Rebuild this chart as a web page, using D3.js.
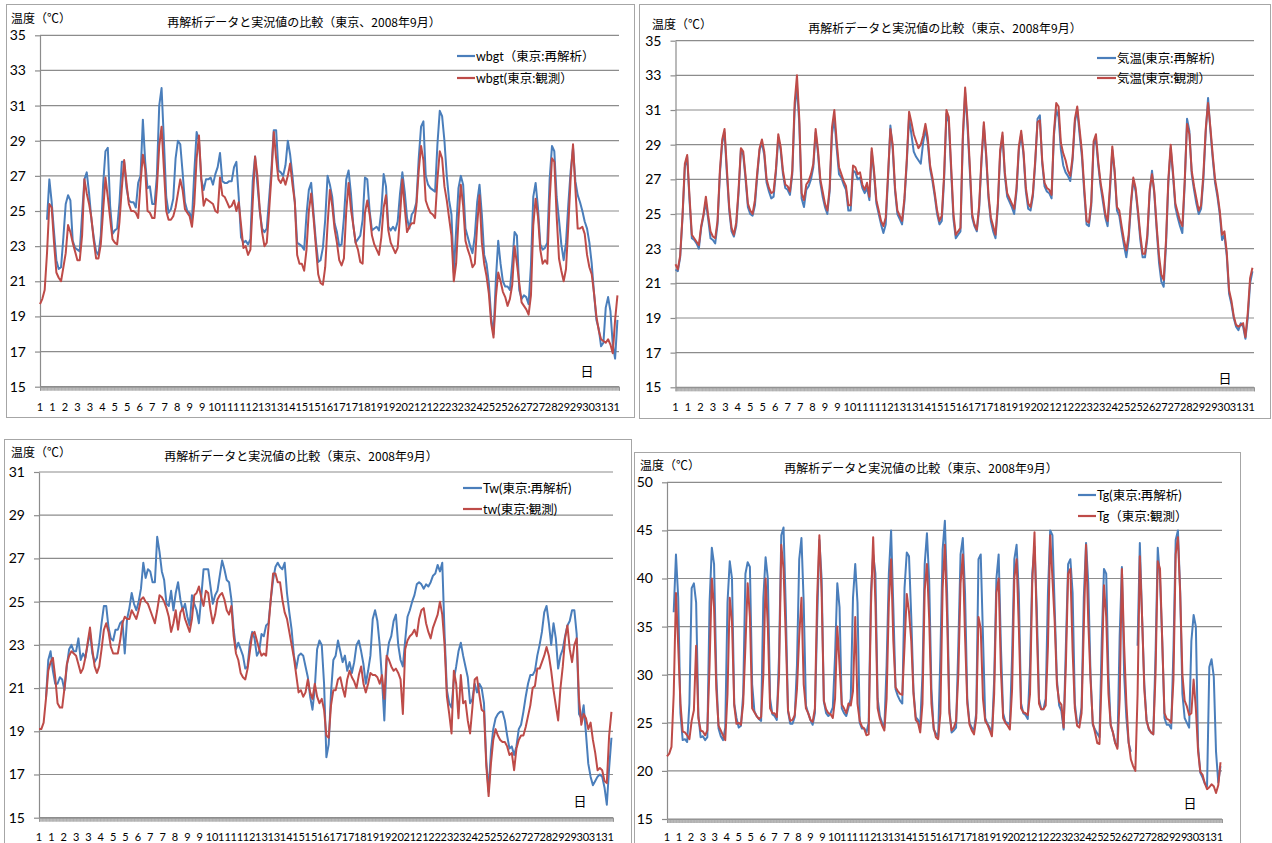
<!DOCTYPE html>
<html>
<head>
<meta charset="utf-8">
<script src="https://cdn.jsdelivr.net/npm/d3@7/dist/d3.min.js"></script>
<style>
body { margin: 0; background: #fff; }
svg { display: block; }
</style>
</head>
<body>
<svg id="chart" width="1272" height="843"></svg>
<script>
// hourly category axis, 2008-09-01 .. 09-30 +1 day, values sampled every 3 hours
var hourCount = 744;
var sampleStep = 3;

var tickLabels = ["1","1","2","3","3","4","5","5","6","7","7","8","9","9","10","11","11","12","13","13",
    "14","15","15","16","17","17","18","19","19","20","21","21","22","23","23","24","25","25","26","27",
    "27","28","29","29","30","31","31"];

var titleText = "再解析データと実況値の比較（東京、2008年9月）";
var unitText = "温度（℃）";
var dayText = "日";

// WBGT
var wbgtReanalysis = [
    null, null, null, 24.5, 26.8, 25.5, 23.8, 22.2,
    21.7, 21.8, 23.5, 25.4, 25.9, 25.6, 23.3, 22.9,
    22.8, 22.7, 24.8, 26.8, 27.2, 26.0, 24.5, 23.5,
    22.7, 22.5, 23.6, 26.5, 28.4, 28.6, 25.3, 23.7,
    23.9, 24.0, 25.5, 27.8, 27.8, 26.3, 25.6, 25.5,
    25.5, 25.2, 26.6, 27.0, 30.2, 27.8, 26.3, 26.4,
    25.4, 25.4, 27.0, 31.0, 32.0, 29.0, 25.8, 24.9,
    25.1, 25.7, 28.0, 29.0, 28.8, 27.2, 25.5, 25.0,
    24.9, 24.5, 27.2, 29.5, 29.0, 26.8, 26.2, 26.8,
    26.8, 26.9, 26.5, 27.1, 27.5, 28.3, 26.7, 26.6,
    26.6, 26.7, 26.7, 27.5, 27.8, 25.8, 23.5, 23.2,
    23.3, 23.1, 23.4, 26.7, 28.1, 26.5, 25.0, 24.0,
    23.8, 24.0, 25.7, 27.4, 29.6, 29.6, 27.3, 27.2,
    27.0, 27.6, 29.0, 28.2, 27.0, 25.5, 23.2, 23.1,
    23.0, 22.8, 24.8, 26.2, 26.6, 24.9, 23.3, 22.1,
    22.2, 22.9, 24.5, 27.0, 26.5, 25.8, 24.3, 23.8,
    23.0, 23.1, 24.6, 26.8, 27.3, 26.0, 24.2, 23.2,
    23.4, 23.6, 24.5, 26.9, 26.8, 25.0, 23.9, 24.0,
    24.1, 23.9, 25.0, 27.1, 26.4, 24.1, 23.9, 24.1,
    23.9, 24.4, 26.0, 27.2, 26.1, 24.6, 24.0, 24.8,
    25.0, 25.5, 28.0, 29.8, 30.1, 27.0, 26.5, 26.3,
    26.2, 26.1, 28.8, 30.7, 30.4, 29.0, 27.0, 25.6,
    24.8, 21.5, 23.9, 26.3, 27.0, 26.5, 24.0, 23.5,
    23.0, 22.6, 23.6, 25.5, 26.5, 24.8, 22.5, 22.0,
    20.9, 18.9, 18.0, 21.1, 23.3, 22.0, 21.0, 20.7,
    20.7, 20.5, 22.0, 23.8, 23.6, 20.5, 20.0, 20.2,
    20.1, 19.7, 21.9, 25.8, 26.6, 25.2, 23.1, 22.8,
    22.9, 23.2, 26.8, 28.7, 28.4, 25.8, 24.5, 23.1,
    22.2, 23.2, 25.4, 27.3, 28.6, 26.7, 25.9, 25.5,
    25.0, 24.4, 24.0, 23.2, 22.0, 20.3, 18.8, 18.3,
    17.3, 17.5, 19.5, 20.1, 19.3, 17.4, 16.6, 18.8
];
var wbgtObserved = [
    19.7, 20.0, 20.5, 22.6, 25.4, 25.2, 23.2, 21.5,
    21.2, 21.0, 21.8, 22.6, 24.2, 23.8, 23.2, 22.7,
    22.2, 22.2, 23.6, 26.8, 26.0, 25.4, 24.6, 23.3,
    22.3, 22.3, 23.1, 25.0, 26.9, 25.8, 24.6, 23.4,
    23.2, 23.1, 24.4, 26.3, 27.9, 26.6, 25.4, 25.0,
    25.0, 24.9, 24.6, 26.6, 28.2, 27.4, 25.0, 24.9,
    24.6, 24.6, 26.3, 28.7, 29.8, 27.4, 25.0, 24.5,
    24.5, 24.7, 25.2, 26.0, 26.8, 26.2, 25.1, 24.9,
    24.7, 24.1, 25.4, 28.0, 29.3, 26.8, 25.3, 25.7,
    25.6, 25.5, 25.4, 25.0, 24.9, 26.9, 25.9, 25.8,
    25.5, 25.2, 25.3, 25.6, 25.0, 25.5, 24.2, 22.9,
    23.0, 22.5, 22.8, 25.5, 28.1, 27.0, 25.1, 23.8,
    23.0, 23.2, 25.0, 27.0, 29.5, 28.0, 26.8, 26.6,
    26.9, 26.5, 27.0, 27.7, 26.5, 25.5, 22.5, 22.0,
    22.0, 21.6, 22.8, 25.0, 26.0, 24.6, 23.0, 21.4,
    20.9, 20.8, 21.8, 24.2, 26.2, 25.3, 24.0, 23.2,
    22.2, 21.9, 22.3, 25.0, 26.6, 25.1, 24.2, 23.2,
    22.8, 22.1, 22.0, 24.9, 25.6, 24.8, 23.6, 23.1,
    22.8, 22.5, 23.5, 25.2, 25.9, 23.9, 23.2, 22.9,
    22.6, 22.9, 24.7, 26.8, 25.2, 23.8, 24.1, 24.3,
    24.3, 25.3, 27.3, 28.7, 27.9, 25.6, 25.2, 24.9,
    24.8, 24.6, 26.8, 28.4, 28.0, 26.4, 25.6, 24.6,
    23.6, 21.0, 22.0, 24.5, 26.5, 25.3, 23.3, 22.8,
    22.4, 21.8, 22.0, 24.2, 25.9, 23.2, 22.0, 21.3,
    20.3, 18.6, 17.8, 20.1, 21.5, 21.0, 20.4, 20.1,
    19.6, 20.0, 20.8, 23.0, 22.0, 20.9, 19.8, 19.6,
    19.4, 19.1, 20.2, 24.2, 25.7, 24.7, 22.8, 22.0,
    22.2, 22.0, 25.6, 28.0, 27.8, 24.7, 22.3, 21.6,
    21.0, 21.7, 24.2, 26.9, 28.8, 26.3, 24.0, 24.0,
    24.1, 23.7, 22.5, 21.8, 21.4, 20.3, 19.0, 18.2,
    17.7, 17.6, 17.5, 17.7, 17.4, 16.9, 18.8, 20.2
];

// air temperature
var airReanalysis = [
    21.8, 21.7, 22.5, 24.8, 27.7, 28.3, 25.8, 23.6,
    23.5, 23.3, 23.0, 24.2, 24.9, 25.7, 24.7, 23.6,
    23.5, 23.3, 24.4, 27.3, 29.1, 29.7, 27.3, 25.2,
    24.0, 23.7, 24.3, 26.2, 28.7, 28.4, 27.0, 25.4,
    25.0, 24.9, 25.5, 27.2, 28.7, 29.1, 28.4, 26.8,
    26.3, 25.9, 26.0, 27.4, 29.4, 28.7, 27.3, 26.5,
    26.4, 26.1, 27.3, 31.0, 32.4, 30.2, 25.9, 25.4,
    26.4, 26.6, 27.0, 27.7, 29.7, 28.5, 26.8, 26.0,
    25.4, 25.0, 26.3, 29.6, 30.5, 28.8, 27.3, 27.1,
    26.7, 26.4, 25.2, 25.2, 27.5, 27.4, 27.0, 27.1,
    26.5, 26.2, 26.5, 25.8, 28.6, 27.3, 25.6, 25.0,
    24.4, 23.9, 24.4, 27.1, 30.1, 28.7, 26.3, 25.0,
    24.7, 24.4, 25.7, 27.9, 30.6, 29.6, 28.6, 28.3,
    28.1, 27.9, 29.1, 29.9, 29.1, 27.6, 26.9, 26.0,
    25.0, 24.4, 24.6, 27.0, 30.8, 30.3, 27.5, 24.7,
    23.6, 23.8, 24.0, 29.2, 32.0, 30.1, 27.5, 24.8,
    24.3, 24.0, 25.3, 28.0, 30.1, 28.3, 25.9, 24.6,
    24.0, 23.6, 25.4, 28.5, 29.5, 27.2, 26.0, 25.7,
    25.4, 25.0, 26.3, 28.7, 29.6, 28.4, 26.3, 25.3,
    25.2, 26.0, 27.9, 30.5, 30.7, 27.9, 26.6, 26.3,
    26.2, 25.9, 29.5, 31.0, 30.6, 28.7, 27.8, 27.4,
    27.2, 26.9, 28.1, 30.3, 31.0, 29.6, 28.3, 26.2,
    24.4, 24.3, 25.5, 29.0, 29.3, 27.8, 26.6, 25.7,
    24.8, 24.3, 26.3, 28.7, 27.4, 25.2, 24.9, 24.0,
    23.2, 22.5, 23.5, 25.5, 27.0, 26.3, 25.0, 23.5,
    22.5, 22.5, 23.6, 26.2, 27.5, 26.1, 24.1, 22.2,
    21.1, 20.8, 23.2, 26.8, 28.8, 27.2, 25.4, 24.8,
    24.3, 23.9, 26.7, 30.5, 29.8, 27.3, 26.4, 25.6,
    25.0, 25.3, 27.0, 29.7, 31.7, 29.8, 28.2, 26.8,
    26.0, 25.0, 23.5, 23.8, 22.6, 20.4, 19.8, 19.0,
    18.5, 18.3, 18.7, 18.5, 17.8, 19.0, 21.0, 21.7
];
var airObserved = [
    22.1, 21.8, 22.6, 24.9, 27.9, 28.4, 26.0, 23.8,
    23.6, 23.4, 23.2, 24.3, 25.0, 26.0, 24.9, 24.0,
    23.7, 23.6, 24.6, 27.5, 29.3, 29.9, 27.6, 25.4,
    24.2, 23.8, 24.5, 26.4, 28.8, 28.6, 27.2, 25.6,
    25.2, 25.0, 25.8, 27.4, 28.8, 29.3, 28.6, 27.0,
    26.5, 26.2, 26.3, 27.6, 29.6, 28.9, 27.5, 26.7,
    26.6, 26.3, 27.5, 31.4, 33.0, 30.5, 26.2, 25.8,
    26.7, 26.9, 27.3, 27.9, 29.9, 28.7, 27.0, 26.3,
    25.6, 25.2, 26.5, 30.0, 31.0, 29.2, 27.7, 27.3,
    26.9, 26.6, 25.5, 25.5, 27.8, 27.7, 27.3, 27.4,
    26.7, 26.4, 26.8, 26.0, 28.8, 27.5, 25.8, 25.2,
    24.6, 24.3, 24.8, 27.3, 29.9, 29.0, 26.5, 25.2,
    24.9, 24.6, 25.9, 28.1, 30.9, 30.3, 29.6, 29.2,
    28.8, 29.0, 29.5, 30.2, 29.4, 27.8, 27.1, 26.2,
    25.2, 24.6, 24.9, 27.3, 31.0, 30.6, 27.8, 25.0,
    23.8, 24.0, 24.2, 29.5, 32.3, 30.4, 27.8, 25.0,
    24.4, 24.1, 25.5, 28.2, 30.3, 28.5, 26.1, 24.8,
    24.3, 23.8, 25.6, 28.7, 29.7, 27.4, 26.2, 25.9,
    25.6, 25.3, 26.5, 28.9, 29.8, 28.6, 26.5, 25.6,
    25.4, 26.2, 28.1, 30.3, 30.4, 28.1, 26.8, 26.5,
    26.4, 26.1, 29.7, 31.4, 31.2, 29.1, 28.5, 28.1,
    27.5, 27.2, 28.3, 30.5, 31.2, 29.9, 28.6, 26.5,
    24.6, 24.5, 25.7, 29.2, 29.6, 28.0, 26.8, 26.0,
    25.0, 24.6, 26.6, 28.9, 27.5, 25.4, 25.2, 24.3,
    23.5, 22.9, 23.8, 25.7, 27.1, 26.5, 25.2, 23.8,
    22.7, 22.7, 23.8, 26.4, 27.3, 26.3, 24.3, 22.6,
    21.5, 21.2, 23.5, 27.0, 29.0, 27.4, 25.6, 25.1,
    24.6, 24.3, 26.9, 30.2, 29.6, 27.5, 26.6, 25.9,
    25.2, 25.5, 27.3, 29.9, 31.4, 30.0, 28.4, 27.0,
    26.2, 25.2, 23.8, 24.0, 22.8, 20.6, 20.0, 19.1,
    18.6, 18.5, 18.6, 18.7, 17.9, 19.3, 21.3, 21.9
];

// wet-bulb temperature
var twReanalysis = [
    null, null, null, 20.5, 22.3, 22.7, 21.8, 21.2,
    21.2, 21.5, 21.4, 20.9, 22.0, 22.8, 23.0, 22.7,
    22.7, 23.3, 22.3, 22.6, 22.4, 23.0, 23.6, 22.6,
    22.2, 22.4, 23.1, 24.0, 24.8, 24.8, 23.8, 23.3,
    23.2, 23.7, 23.7, 24.0, 24.1, 22.6, 24.2, 24.7,
    25.4, 24.9, 24.6, 25.0, 25.6, 26.8, 26.1, 26.5,
    26.4, 25.9, 25.9, 28.0, 27.3, 26.4, 26.0, 24.9,
    24.8, 25.5, 24.6, 25.4, 25.9, 25.1, 24.6, 24.9,
    24.3, 23.9, 25.3, 24.9, 24.6, 24.0, 25.2, 26.5,
    26.5, 26.5, 25.7, 24.9, 25.3, 25.5, 26.2, 26.9,
    26.5, 26.0, 25.9, 25.1, 23.7, 22.8, 23.1, 22.8,
    22.5, 21.9, 22.0, 23.1, 23.6, 23.3, 22.5, 22.7,
    23.5, 23.4, 23.9, 24.0, 25.1, 26.0, 26.6, 26.8,
    26.6, 26.5, 26.8, 25.4, 24.5, 23.7, 22.5, 21.9,
    22.5, 22.6, 22.5, 22.0, 21.5, 20.6, 20.0, 21.0,
    22.8, 23.2, 23.0, 21.2, 17.8, 18.4, 20.8, 22.3,
    22.5, 23.2, 22.7, 22.2, 22.5, 21.8, 22.2, 21.7,
    22.2, 23.0, 23.2, 22.7, 22.1, 21.2, 21.8, 22.5,
    24.2, 24.6, 24.1, 23.0, 21.4, 19.5, 22.3, 23.1,
    23.4, 24.1, 24.4, 23.0, 22.3, 22.0, 23.2, 24.3,
    24.6, 25.0, 25.3, 25.8, 25.9, 25.8, 25.6, 25.8,
    25.7, 25.9, 26.2, 26.3, 26.7, 26.4, 26.8, 23.5,
    20.9, 20.3, 20.1, 21.4, 22.0, 22.7, 23.1, 22.5,
    22.0, 21.5, 20.3, 20.5, 21.2, 20.8, 21.2, 21.0,
    20.3, 17.6, 16.2, 18.1, 19.1, 19.6, 19.8, 19.9,
    19.9, 19.5, 18.8, 18.2, 18.3, 17.9, 18.3, 19.1,
    19.3, 19.9, 20.6, 21.2, 21.6, 21.6, 21.8, 22.5,
    23.0, 23.6, 24.5, 24.8, 24.0, 23.0, 24.0, 23.3,
    21.9, 22.5, 22.8, 23.4, 23.9, 24.1, 24.6, 24.6,
    23.5, 19.8, 19.6, 20.2, 18.9, 17.5, 16.9, 16.5,
    16.7, 16.9, 17.0, 16.9, 16.4, 15.6, 17.3, 18.7
];
var twObserved = [
    19.1, 19.1, 19.4, 20.5, 21.8, 22.2, 22.4, 21.5,
    20.3, 20.1, 20.1, 21.0, 22.1, 22.5, 22.7, 22.6,
    22.5, 22.1, 21.7, 21.9, 22.4, 23.1, 23.8, 22.8,
    22.0, 21.7, 22.0, 22.8, 23.7, 24.0, 23.6, 22.9,
    22.6, 22.6, 22.6, 23.2, 24.0, 24.3, 24.2, 24.2,
    24.6, 24.4, 24.2, 24.6, 25.1, 25.2, 25.0, 24.9,
    24.6, 24.3, 24.0, 24.6, 25.3, 25.2, 25.0, 24.7,
    24.3, 23.6, 24.0, 24.6, 23.7, 24.5, 24.7, 24.2,
    23.9, 23.6, 24.2, 25.3, 25.4, 25.7, 25.2, 24.8,
    25.5, 25.4, 24.6, 24.0, 24.4, 25.1, 25.3, 25.4,
    25.1, 24.6, 24.4, 24.8, 23.4, 22.6, 22.3, 21.7,
    21.5, 21.4, 21.9, 22.7, 23.5, 23.6, 23.2, 22.8,
    22.5, 22.6, 22.5, 23.8, 25.1, 26.3, 26.3, 25.9,
    25.9, 25.1, 24.5, 24.2, 23.6, 23.0, 22.4, 21.6,
    20.8, 20.9, 20.6, 20.8, 21.4, 20.8, 20.5, 21.2,
    20.6, 20.3, 20.5, 20.0, 18.8, 18.7, 20.2, 20.9,
    20.9, 21.4, 21.5, 21.0, 20.6, 21.4, 21.8, 21.5,
    21.3, 21.0, 21.6, 22.0, 21.2, 20.8, 21.2, 21.7,
    21.6, 21.6, 21.5, 21.2, 21.6, 20.5, 22.5, 22.3,
    22.0, 21.8, 21.9, 21.7, 21.4, 19.8, 22.8, 23.2,
    23.4, 23.5, 23.7, 23.4, 24.2, 24.6, 24.7, 24.0,
    23.6, 23.3, 23.8, 24.1, 24.4, 25.0, 24.4, 23.0,
    20.6, 19.8, 18.9, 21.8, 21.2, 19.6, 21.6, 20.3,
    20.4, 19.5, 18.9, 20.1, 21.4, 21.5, 20.7, 20.0,
    19.9, 17.4, 16.0, 17.5, 18.6, 19.1, 18.8, 18.6,
    18.5, 18.5, 18.3, 17.9, 18.0, 17.2, 18.2, 18.6,
    18.8, 18.8, 19.2, 19.7, 20.2, 21.0, 21.1, 21.9,
    21.9, 22.2, 22.5, 22.9, 22.5, 21.8, 20.9, 20.2,
    19.5, 21.0, 22.0, 23.3, 23.9, 22.8, 22.2, 23.0,
    23.3, 20.5, 19.3, 19.8, 19.6, 19.1, 19.4, 18.6,
    18.0, 17.2, 17.3, 17.2, 16.7, 16.6, 18.8, 19.9
];

// globe temperature
var tgReanalysis = [
    null, null, null, 36.5, 42.5, 38.0, 26.0, 23.2,
    23.3, 23.0, 27.0, 39.0, 39.5, 37.5, 25.8, 23.5,
    23.6, 23.2, 23.5, 37.5, 43.2, 41.5, 30.0, 24.4,
    23.6, 23.2, 24.5, 37.5, 41.8, 40.0, 27.0, 25.5,
    24.5, 24.7, 28.0, 40.5, 41.7, 41.2, 29.0, 26.2,
    25.7, 25.4, 25.2, 38.0, 42.2, 40.0, 27.5, 25.9,
    25.7, 25.3, 32.0, 44.5, 45.3, 37.0, 26.2, 24.9,
    24.9, 25.6, 31.0, 42.0, 44.2, 37.5, 26.8, 26.0,
    25.3, 24.8, 26.0, 35.5, 44.0, 40.0, 27.2, 26.0,
    25.7, 26.0, 26.6, 32.0, 39.5, 37.0, 26.5, 26.0,
    25.7, 26.6, 27.5, 38.0, 41.5, 37.5, 25.0, 24.4,
    24.4, 24.0, 25.0, 38.5, 42.5, 40.5, 27.5, 25.7,
    25.0, 24.5, 31.0, 40.5, 45.0, 37.0, 28.5, 27.8,
    27.3, 27.0, 39.0, 42.7, 42.3, 36.0, 28.3, 25.6,
    25.3, 24.8, 30.0, 41.5, 44.7, 39.8, 28.5, 24.3,
    23.9, 23.5, 32.0, 43.0, 46.0, 38.5, 26.5, 24.0,
    24.2, 24.5, 33.0, 42.5, 44.2, 38.5, 27.5, 25.0,
    24.5, 24.2, 26.0, 42.0, 42.5, 34.0, 25.5, 24.9,
    24.5, 23.8, 29.5, 40.0, 42.5, 33.0, 26.0, 25.1,
    25.0, 24.8, 32.0, 42.0, 43.5, 38.5, 27.0, 26.0,
    25.8, 25.4, 31.0, 40.5, 43.3, 37.0, 27.5, 26.4,
    26.4, 27.5, 38.5, 45.0, 44.5, 37.0, 29.5, 26.8,
    26.2, 24.3, 33.0, 41.5, 42.0, 38.5, 27.0, 25.0,
    25.0, 26.6, 38.0, 43.7, 39.5, 30.0, 24.8, 24.3,
    23.9, 23.5, 33.5, 41.0, 40.5, 30.0, 24.7, 24.0,
    22.9, 22.5, 34.0, 41.2, 30.0, 25.5, 22.9, 22.0,
    null, null, 33.0, 43.7, 36.0, 29.0, 25.3, 24.3,
    24.0, 23.8, 32.0, 43.2, 40.0, 33.5, 25.5, 24.8,
    24.8, 24.4, 32.5, 44.0, 45.0, 38.7, 28.0, 25.5,
    25.0, 24.5, 33.5, 36.2, 35.0, 22.5, 19.8, 19.3,
    18.7, 18.4, 30.8, 31.6, 29.8, 22.0, 18.8, 20.5
];
var tgObserved = [
    21.5, 21.8, 22.5, 28.0, 38.5, 33.0, 27.0, 24.1,
    24.0, 23.7, 23.3, 25.2, 26.3, 33.0, 25.5, 24.2,
    24.1, 23.7, 24.2, 31.0, 40.0, 37.0, 28.5, 24.7,
    24.2, 23.7, 23.2, 28.0, 38.0, 35.5, 26.8, 24.9,
    25.0, 24.8, 27.0, 33.0, 39.5, 36.0, 26.5, 26.1,
    25.7, 25.4, 25.6, 30.0, 40.0, 35.0, 26.5, 26.0,
    26.0, 25.6, 30.0, 43.5, 41.0, 34.0, 26.3, 25.2,
    25.3, 25.8, 28.5, 34.0, 38.0, 29.0, 26.5, 26.0,
    25.3, 25.1, 26.5, 38.0, 44.5, 38.5, 27.3, 26.4,
    26.0, 25.9, 25.5, 27.5, 35.0, 31.0, 26.9, 26.5,
    26.0, 27.0, 26.8, 28.3, 36.0, 27.0, 25.2, 24.6,
    24.4, 23.7, 23.8, 37.0, 44.3, 37.5, 26.5, 25.4,
    24.7, 24.2, 27.5, 37.5, 42.0, 33.5, 28.7, 28.3,
    28.0, 27.9, 33.0, 38.4, 36.5, 33.5, 28.0, 25.3,
    25.0, 24.0, 27.0, 38.8, 41.5, 35.8, 27.0, 24.5,
    23.5, 23.3, 26.0, 39.0, 43.5, 36.0, 26.0, 24.2,
    24.5, 25.2, 30.0, 39.5, 42.5, 34.0, 27.0, 24.8,
    24.2, 23.8, 25.5, 36.0, 34.8, 27.5, 25.2, 24.8,
    24.2, 23.6, 28.0, 38.5, 40.0, 30.5, 25.5, 25.0,
    24.7, 24.3, 28.5, 40.0, 42.0, 35.0, 26.5, 26.1,
    26.0, 25.8, 28.0, 39.5, 44.8, 35.0, 27.0, 26.4,
    26.4, 26.8, 33.0, 44.5, 40.0, 35.5, 29.0, 27.2,
    26.9, 24.5, 31.0, 40.5, 41.0, 32.5, 26.5, 24.7,
    24.5, 26.0, 35.0, 43.5, 35.5, 29.5, 25.0, 24.0,
    22.9, 22.8, 30.0, 39.3, 36.0, 28.0, 24.8, 24.0,
    22.9, 22.3, 27.5, 41.0, 33.0, 27.0, 23.0, 21.2,
    20.5, 20.0, 28.0, 42.3, 36.0, 28.5, 25.2, 24.4,
    24.0, 23.8, 30.0, 41.8, 41.0, 33.5, 26.0, 25.4,
    25.3, 25.0, 29.5, 42.5, 44.3, 38.5, 30.0, 27.3,
    26.7, 25.8, 26.0, 29.5, 26.5, 22.0, 19.9, 19.6,
    18.7, 18.1, 18.3, 18.6, 18.4, 17.7, 18.5, 20.9
];

var blue = "#4a7ebb";
var red = "#be4b48";
var gridColor = "#8c8c8c";
var numFont = "Lato, 'Noto Sans CJK JP', sans-serif";
var jpFont = "'Noto Sans CJK JP', sans-serif";

var panels = [
    { frame: [6, 4, 634, 417], left: 40, right: 619, top: 35.3, bottom: 386.7,
      yTicks: [15, 17, 19, 21, 23, 25, 27, 29, 31, 33, 35],
      title: [304, 21], unit: [11, 17], legend: [457, 476, 56, 78], day: [587, 370], labelY: 406,
      names: ["wbgt（東京:再解析）", "wbgt(東京:観測）"], series: [wbgtReanalysis, wbgtObserved] },
    { frame: [639, 4, 1270, 418], left: 675.5, right: 1254, top: 40.7, bottom: 387.3,
      yTicks: [15, 17, 19, 21, 23, 25, 27, 29, 31, 33, 35],
      title: [945, 27], unit: [652, 23], legend: [1097, 1117, 58, 78], day: [1225, 377], labelY: 406,
      names: ["気温(東京:再解析)", "気温(東京:観測）"], series: [airReanalysis, airObserved] },
    { frame: [4, 439, 631, 850], left: 39, right: 613, top: 472, bottom: 817.7,
      yTicks: [15, 17, 19, 21, 23, 25, 27, 29, 31],
      title: [301, 455], unit: [11, 451], legend: [463, 483, 488, 509], day: [580, 800], labelY: 836,
      names: ["Tw(東京:再解析)", "tw(東京:観測)"], series: [twReanalysis, twObserved] },
    { frame: [634, 452, 1240, 850], left: 667, right: 1222, top: 482.3, bottom: 819,
      yTicks: [15, 20, 25, 30, 35, 40, 45, 50],
      title: [921, 467], unit: [640, 464], legend: [1078, 1097, 495, 516], day: [1190, 802], labelY: 836,
      names: ["Tg(東京:再解析)", "Tg（東京:観測）"], series: [tgReanalysis, tgObserved] }
];

var svg = d3.select("#chart");

function drawPanel(p) {
    var g = svg.append("g");
    g.append("rect")
        .attr("x", p.frame[0] + 0.5).attr("y", p.frame[1] + 0.5)
        .attr("width", p.frame[2] - p.frame[0]).attr("height", p.frame[3] - p.frame[1])
        .attr("fill", "#fff").attr("stroke", "#a6a6a6");

    var x = d3.scaleLinear().domain([0, hourCount - 1]).range([p.left, p.right]);
    var y = d3.scaleLinear().domain([p.yTicks[0], p.yTicks[p.yTicks.length - 1]]).range([p.bottom, p.top]);

    g.selectAll("line.grid").data(p.yTicks).enter().append("line")
        .attr("class", "grid")
        .attr("x1", p.left).attr("x2", p.right)
        .attr("y1", function (d) { return y(d); })
        .attr("y2", function (d) { return y(d); })
        .attr("stroke", gridColor).attr("stroke-width", 1.2);

    var yAxis = g.append("g")
        .attr("transform", "translate(" + p.left + ",0)")
        .call(d3.axisLeft(y).tickValues(p.yTicks).tickSizeInner(5).tickSizeOuter(0).tickPadding(9));
    yAxis.select(".domain").attr("stroke", gridColor).attr("stroke-width", 1.2);
    yAxis.selectAll(".tick line").attr("stroke", gridColor).attr("stroke-width", 1.2);
    yAxis.selectAll(".tick text")
        .attr("fill", "#000").style("font-family", numFont).style("font-size", "14px");

    // one tick per hour, they merge into the grey band under the plot
    var xAxis = g.append("g")
        .attr("transform", "translate(0," + p.bottom + ")")
        .call(d3.axisBottom(x).tickValues(d3.range(hourCount)).tickSize(4).tickFormat(""));
    xAxis.select(".domain").attr("stroke", gridColor);
    xAxis.selectAll(".tick line").attr("stroke", "#999").attr("stroke-width", 0.7);

    g.selectAll("text.xlabel").data(tickLabels).enter().append("text")
        .attr("class", "xlabel")
        .attr("x", function (d, i) { return x(i * 16); })
        .attr("y", p.labelY)
        .attr("text-anchor", "middle").attr("dominant-baseline", "central")
        .style("font-family", numFont).style("font-size", "11px")
        .text(function (d) { return d; });

    var line = d3.line()
        .defined(function (d) { return d != null; })
        .x(function (d, i) { return x(i * sampleStep); })
        .y(function (d) { return y(d); });

    var colors = [blue, red];
    p.series.forEach(function (s, k) {
        g.append("path").datum(s)
            .attr("d", line)
            .attr("fill", "none").attr("stroke", colors[k])
            .attr("stroke-width", 2).attr("stroke-linejoin", "round");
    });

    g.append("text")
        .attr("x", p.title[0]).attr("y", p.title[1])
        .attr("text-anchor", "middle").attr("dominant-baseline", "central")
        .style("font-family", jpFont).style("font-size", "12px")
        .text(titleText);
    g.append("text")
        .attr("x", p.unit[0]).attr("y", p.unit[1])
        .attr("dominant-baseline", "central")
        .style("font-family", jpFont).style("font-size", "12px")
        .text(unitText);
    g.append("text")
        .attr("x", p.day[0]).attr("y", p.day[1])
        .attr("text-anchor", "middle").attr("dominant-baseline", "central")
        .style("font-family", jpFont).style("font-size", "13px")
        .text(dayText);

    var rows = [p.legend[2], p.legend[3]];
    p.names.forEach(function (name, k) {
        g.append("line")
            .attr("x1", p.legend[0]).attr("x2", p.legend[1] - 1)
            .attr("y1", rows[k]).attr("y2", rows[k])
            .attr("stroke", colors[k]).attr("stroke-width", 2.2);
        g.append("text")
            .attr("x", p.legend[1]).attr("y", rows[k])
            .attr("dominant-baseline", "central")
            .style("font-family", numFont).style("font-size", "12.5px")
            .text(name);
    });
}

panels.forEach(drawPanel);
</script>
</body>
</html>
